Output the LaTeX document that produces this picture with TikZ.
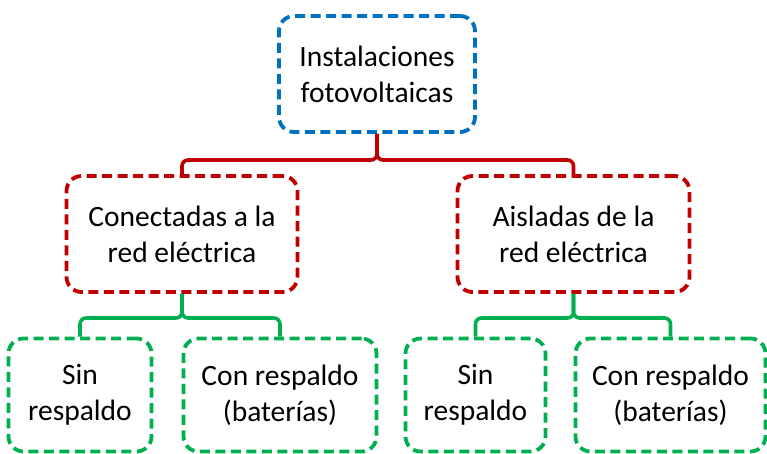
\documentclass[tikz,border=0pt]{standalone}
\usepackage{fontspec}
\setmainfont{Carlito}
\definecolor{cblue}{RGB}{0,112,192}
\definecolor{cred}{RGB}{192,0,0}
\definecolor{cgreen}{RGB}{0,176,80}
\begin{document}
\begin{tikzpicture}[x=1pt,y=-1pt,
  box/.style={draw, rectangle, rounded corners=15pt, line width=3.8pt,
    dash pattern=on 10pt off 5.5pt, inner sep=0pt, align=center,
    font=\fontsize{29.5}{36}\selectfont, fill=white},
  bluebox/.style={box, draw=cblue},
  redbox/.style={box, draw=cred},
  greenbox/.style={box, draw=cgreen},
  conn/.style={line width=3.6pt, rounded corners=6pt}]
\useasboundingbox (0,0) rectangle (767,453);
\coordinate (barR) at (0,160);
\coordinate (barG) at (0,318);
\node[bluebox, minimum width=196pt, minimum height=116pt] (top) at (377,74) {Instalaciones\\fotovoltaicas};
\node[redbox, minimum width=231pt, minimum height=116pt] (redL) at (182,234) {Conectadas a la\\red eléctrica};
\node[redbox, minimum width=232pt, minimum height=116pt] (redR) at (573.5,234) {Aisladas de la\\red eléctrica};
\node[greenbox, minimum width=143pt, minimum height=113pt] (gL1) at (80,395) {Sin\\respaldo};
\node[greenbox, minimum width=193pt, minimum height=113pt] (gL2) at (280,395) {Con respaldo\\(baterías)};
\node[greenbox, minimum width=140pt, minimum height=113pt] (gR1) at (475.5,395) {Sin\\respaldo};
\node[greenbox, minimum width=190pt, minimum height=113pt] (gR2) at (670.5,395) {Con respaldo\\(baterías)};
\draw[conn, cred] (top.south) -- (top.south |- barR) -- (redL.north |- barR) -- (redL.north);
\draw[conn, cred] (top.south) -- (top.south |- barR) -- (redR.north |- barR) -- (redR.north);
\draw[conn, cgreen] (redL.south) -- (redL.south |- barG) -- (gL1.north |- barG) -- (gL1.north);
\draw[conn, cgreen] (redL.south) -- (redL.south |- barG) -- (gL2.north |- barG) -- (gL2.north);
\draw[conn, cgreen] (redR.south) -- (redR.south |- barG) -- (gR1.north |- barG) -- (gR1.north);
\draw[conn, cgreen] (redR.south) -- (redR.south |- barG) -- (gR2.north |- barG) -- (gR2.north);
\end{tikzpicture}
\end{document}
